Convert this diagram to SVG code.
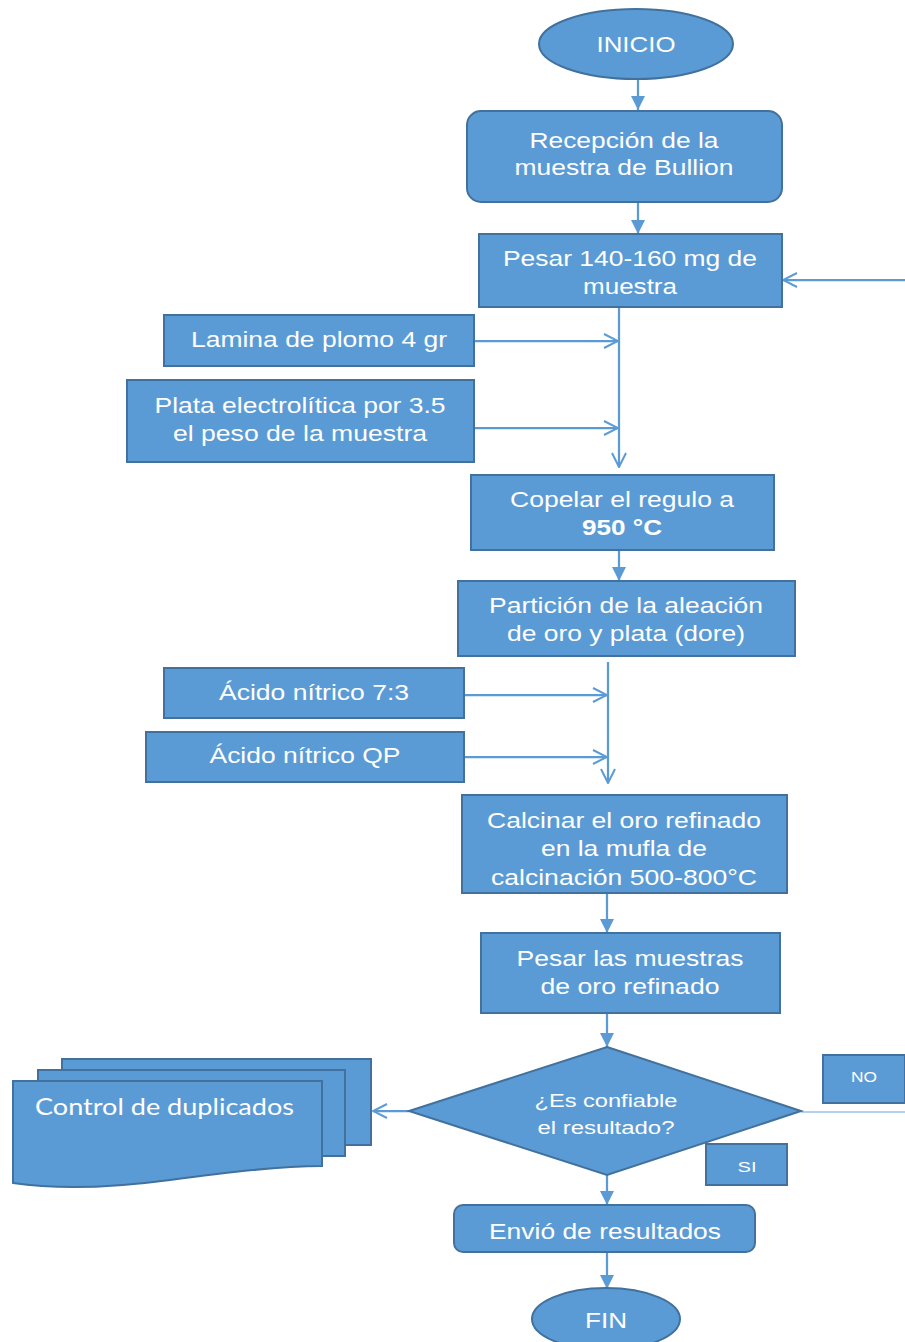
<svg xmlns="http://www.w3.org/2000/svg" width="905" height="1342" viewBox="0 0 905 1342">
  <defs>
    <style>
      .box { fill: #5B9BD5; stroke: #41719C; stroke-width: 2; }
      .t { font-family: "Liberation Sans", Arial, sans-serif; font-size: 22.5px; fill: #FFFFFF; text-anchor: middle; }
      .ts { font-family: "Liberation Sans", Arial, sans-serif; font-size: 17.5px; fill: #FFFFFF; text-anchor: middle; }
      .tl { font-family: "Liberation Sans", Arial, sans-serif; font-size: 15px; fill: #FFFFFF; text-anchor: middle; }
      .tc { font-family: Lato, "Open Sans", sans-serif; font-size: 23px; fill: #FFFFFF; }
      .flow { fill: none; stroke: #5B9BD5; stroke-width: 2.25; }
      .thin { fill: none; stroke: #9DC3E6; stroke-width: 1.6; }
    </style>
    <marker id="tri" viewBox="0 0 16 14" refX="14" refY="7" markerWidth="16" markerHeight="14" orient="auto" markerUnits="userSpaceOnUse">
      <path d="M0,0 L14,7 L0,14 z" fill="#5B9BD5"/>
    </marker>
    <marker id="open" viewBox="0 0 16 16" refX="15" refY="8" markerWidth="16" markerHeight="16" orient="auto" markerUnits="userSpaceOnUse">
      <path d="M1,1 L15,8 L1,15" fill="none" stroke="#5B9BD5" stroke-width="2"/>
    </marker>
  </defs>

  <rect width="905" height="1342" fill="#FFFFFF"/>

  <!-- connectors -->
  <g id="connectors">
    <line class="flow" x1="638" y1="79" x2="638" y2="110" marker-end="url(#tri)"/>
    <line class="flow" x1="638" y1="202" x2="638" y2="234" marker-end="url(#tri)"/>
    <line class="flow" x1="905" y1="280" x2="783" y2="280" marker-end="url(#open)"/>
    <line class="flow" x1="619" y1="307" x2="619" y2="467" marker-end="url(#open)"/>
    <line class="flow" x1="474" y1="341" x2="618" y2="341" marker-end="url(#open)"/>
    <line class="flow" x1="474" y1="428" x2="618" y2="428" marker-end="url(#open)"/>
    <line class="flow" x1="619" y1="550" x2="619" y2="581" marker-end="url(#tri)"/>
    <line class="flow" x1="608" y1="662" x2="608" y2="783" marker-end="url(#open)"/>
    <line class="flow" x1="464" y1="695" x2="607" y2="695" marker-end="url(#open)"/>
    <line class="flow" x1="464" y1="757" x2="607" y2="757" marker-end="url(#open)"/>
    <line class="flow" x1="607" y1="893" x2="607" y2="933" marker-end="url(#tri)"/>
    <line class="flow" x1="607" y1="1013" x2="607" y2="1047" marker-end="url(#tri)"/>
    <line class="flow" x1="409" y1="1111" x2="373" y2="1111" marker-end="url(#open)"/>
    <line class="thin" x1="801" y1="1112" x2="905" y2="1112"/>
    <line class="flow" x1="607" y1="1175" x2="607" y2="1205" marker-end="url(#tri)"/>
    <line class="flow" x1="607" y1="1252" x2="607" y2="1289" marker-end="url(#tri)"/>
  </g>

  <g id="inicio">
    <ellipse class="box" cx="636" cy="44" rx="97" ry="35"/>
    <text class="t" x="636" y="52" textLength="79" lengthAdjust="spacingAndGlyphs">INICIO</text>
  </g>

  <g id="recepcion">
    <rect class="box" x="467" y="111" width="315" height="91" rx="14"/>
    <text class="t" x="624" y="148" textLength="189" lengthAdjust="spacingAndGlyphs">Recepción de la</text>
    <text class="t" x="624" y="175" textLength="219" lengthAdjust="spacingAndGlyphs">muestra de Bullion</text>
  </g>

  <g id="pesar">
    <rect class="box" x="479" y="234" width="303" height="73"/>
    <text class="t" x="630" y="266" textLength="254" lengthAdjust="spacingAndGlyphs">Pesar 140-160 mg de</text>
    <text class="t" x="630" y="294" textLength="94" lengthAdjust="spacingAndGlyphs">muestra</text>
  </g>

  <g id="lamina">
    <rect class="box" x="164" y="315" width="310" height="51"/>
    <text class="t" x="319" y="347" textLength="256" lengthAdjust="spacingAndGlyphs">Lamina de plomo 4 gr</text>
  </g>

  <g id="plata">
    <rect class="box" x="127" y="380" width="347" height="82"/>
    <text class="t" x="300" y="413" textLength="291" lengthAdjust="spacingAndGlyphs">Plata electrolítica por 3.5</text>
    <text class="t" x="300" y="441" textLength="254" lengthAdjust="spacingAndGlyphs">el peso de la muestra</text>
  </g>

  <g id="copelar">
    <rect class="box" x="471" y="475" width="303" height="75"/>
    <text class="t" x="622" y="507" textLength="224" lengthAdjust="spacingAndGlyphs">Copelar el regulo a</text>
    <text class="t" x="622" y="535" font-weight="bold" textLength="80" lengthAdjust="spacingAndGlyphs">950 °C</text>
  </g>

  <g id="particion">
    <rect class="box" x="458" y="581" width="337" height="75"/>
    <text class="t" x="626" y="613" textLength="274" lengthAdjust="spacingAndGlyphs">Partición de la aleación</text>
    <text class="t" x="626" y="641" textLength="238" lengthAdjust="spacingAndGlyphs">de oro y plata (dore)</text>
  </g>

  <g id="acido-73">
    <rect class="box" x="164" y="668" width="300" height="50"/>
    <text class="t" x="314" y="700" textLength="190" lengthAdjust="spacingAndGlyphs">Ácido nítrico 7:3</text>
  </g>

  <g id="acido-qp">
    <rect class="box" x="146" y="732" width="318" height="50"/>
    <text class="t" x="305" y="763" textLength="191" lengthAdjust="spacingAndGlyphs">Ácido nítrico QP</text>
  </g>

  <g id="calcinar">
    <rect class="box" x="462" y="795" width="325" height="98"/>
    <text class="t" x="624" y="828" textLength="274" lengthAdjust="spacingAndGlyphs">Calcinar el oro refinado</text>
    <text class="t" x="624" y="856" textLength="166" lengthAdjust="spacingAndGlyphs">en la mufla de</text>
    <text class="t" x="624" y="885" textLength="266" lengthAdjust="spacingAndGlyphs">calcinación 500-800°C</text>
  </g>

  <g id="pesar-oro">
    <rect class="box" x="481" y="933" width="299" height="80"/>
    <text class="t" x="630" y="966" textLength="227" lengthAdjust="spacingAndGlyphs">Pesar las muestras</text>
    <text class="t" x="630" y="994" textLength="179" lengthAdjust="spacingAndGlyphs">de oro refinado</text>
  </g>

  <g id="decision">
    <polygon class="box" points="607,1047 801,1111 607,1175 409,1111"/>
    <text class="ts" x="606" y="1107" textLength="143" lengthAdjust="spacingAndGlyphs">¿Es confiable</text>
    <text class="ts" x="606" y="1134" textLength="137" lengthAdjust="spacingAndGlyphs">el resultado?</text>
  </g>

  <g id="no-label">
    <rect class="box" x="823" y="1055" width="82" height="48"/>
    <text class="tl" x="864" y="1082" textLength="26" lengthAdjust="spacingAndGlyphs">NO</text>
  </g>

  <g id="si-label">
    <rect class="box" x="706" y="1144" width="81" height="41"/>
    <text class="tl" x="747" y="1172" textLength="19" lengthAdjust="spacingAndGlyphs">SI</text>
  </g>

  <g id="control-duplicados">
    <rect class="box" x="62" y="1059" width="309" height="86"/>
    <rect class="box" x="38" y="1070" width="307" height="86"/>
    <path class="box" d="M13,1081 H322 V1166 C280,1166 230,1172 170,1180 C110,1188 60,1190 13,1183 Z"/>
    <text class="tc" x="35" y="1115" textLength="259" lengthAdjust="spacingAndGlyphs">Control de duplicados</text>
  </g>

  <g id="envio">
    <rect class="box" x="454" y="1205" width="301" height="47" rx="9"/>
    <text class="t" x="605" y="1239" textLength="232" lengthAdjust="spacingAndGlyphs">Envió de resultados</text>
  </g>

  <g id="fin">
    <ellipse class="box" cx="606" cy="1319" rx="74" ry="31"/>
    <text class="t" x="606" y="1328" textLength="42" lengthAdjust="spacingAndGlyphs">FIN</text>
  </g>
</svg>
